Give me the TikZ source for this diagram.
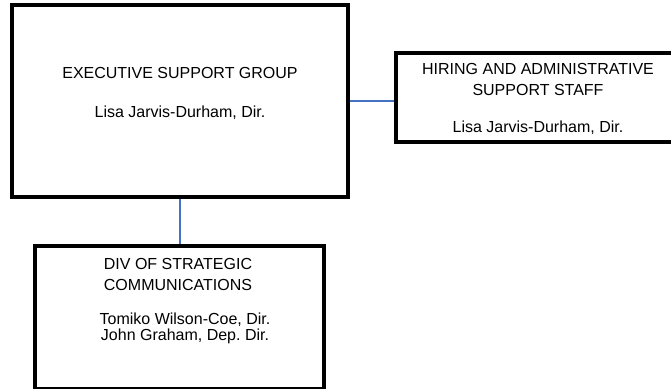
\documentclass[tikz,border=0pt]{standalone}
\usepackage{fontspec}
\setmainfont{Liberation Sans}
\usetikzlibrary{positioning}
\definecolor{linkblue}{HTML}{4472C4}
\frenchspacing
\tikzset{
  unitbox/.style={draw=black, line width=2.5pt, rectangle, inner sep=0pt},
  unittext/.style={align=center, inner sep=0pt, font=\fontsize{12}{15.75}\selectfont},
  namestext/.style={align=center, inner sep=0pt, font=\fontsize{12}{12}\selectfont},
  link/.style={draw=linkblue, line width=2pt}
}
\begin{document}
\begin{tikzpicture}[x=0.75pt, y=0.75pt]
\useasboundingbox (0,0) rectangle (671,389);

% boxes (sizes in pt)
\node[unitbox, minimum width=252pt, minimum height=144pt] (esg) at (180,288) {};
\node[unitbox, minimum width=207.75pt, minimum height=66.75pt] (hss) at (534.5,291.5) {};
\node[unitbox, minimum width=216.75pt, minimum height=106.9pt] (dsc) at (179.5,71.75) {};

% texts
\node[unittext] (esgtitle) at (180,316) {EXECUTIVE SUPPORT GROUP};
\node[unittext] (esgname) at (180,276) {Lisa Jarvis-Durham, Dir.};
\node[unittext] (hsstitle) at (538,309.5) {HIRING AND ADMINISTRATIVE\\SUPPORT STAFF};
\node[unittext] (hssname) at (538,261) {Lisa Jarvis-Durham, Dir.};
\node[unittext] (dsctitle) at (178,115) {DIV OF STRATEGIC\\COMMUNICATIONS};
\node[namestext] (dscnames) at (185,61) {Tomiko Wilson-Coe, Dir.\\John Graham, Dep. Dir.};

% connectors
\draw[link] (esg.east) -- (esg.east -| hss.west);
\draw[link] (esg.south) -- (esg.south |- dsc.north);
\end{tikzpicture}
\end{document}
